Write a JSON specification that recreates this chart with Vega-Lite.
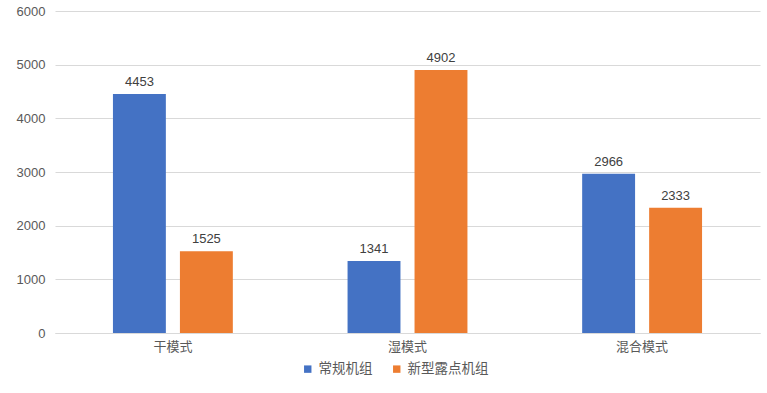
{
  "$schema": "https://vega.github.io/schema/vega-lite/v6.json",
  "width": 705,
  "height": 322,
  "autosize": {"type": "none"},
  "padding": {"left": 55, "top": 11, "right": 7, "bottom": 60},
  "background": "#ffffff",
  "config": {
    "view": {"stroke": null},
    "font": "Liberation Sans",
    "axis": {"labelFont": "Noto Sans CJK SC", "labelColor": "#595959", "labelFontSize": 13},
    "legend": {"labelFont": "Noto Sans CJK SC", "labelColor": "#595959", "labelFontSize": 13.5}
  },
  "data": {
    "values": [
      {"mode": "干模式", "series": "常规机组", "value": 4453},
      {"mode": "干模式", "series": "新型露点机组", "value": 1525},
      {"mode": "湿模式", "series": "常规机组", "value": 1341},
      {"mode": "湿模式", "series": "新型露点机组", "value": 4902},
      {"mode": "混合模式", "series": "常规机组", "value": 2966},
      {"mode": "混合模式", "series": "新型露点机组", "value": 2333}
    ]
  },
  "encoding": {
    "x": {
      "field": "mode", "type": "nominal", "sort": ["干模式", "湿模式", "混合模式"],
      "scale": {"paddingInner": 0.489, "paddingOuter": 0.247},
      "axis": {"title": null, "labelAngle": 0, "ticks": false, "domainColor": "#d9d9d9", "labelPadding": 7}
    },
    "xOffset": {
      "field": "series", "type": "nominal", "sort": ["常规机组", "新型露点机组"],
      "scale": {"paddingInner": 0.21, "paddingOuter": 0}
    },
    "y": {
      "field": "value", "type": "quantitative",
      "scale": {"domain": [0, 6000], "nice": false},
      "axis": {"title": null, "values": [0, 1000, 2000, 3000, 4000, 5000, 6000], "format": "d", "domain": false, "ticks": false, "gridColor": "#d9d9d9", "labelPadding": 10, "labelFont": "Liberation Sans"}
    }
  },
  "layer": [
    {
      "mark": {"type": "bar"},
      "encoding": {
        "color": {
          "field": "series", "type": "nominal", "sort": ["常规机组", "新型露点机组"],
          "scale": {"range": ["#4472C4", "#ED7D31"]},
          "legend": {"title": null, "orient": "none", "legendX": 246, "legendY": 351, "direction": "horizontal", "symbolType": "square", "symbolSize": 55, "columnPadding": 17, "labelOffset": 4}
        }
      }
    },
    {
      "mark": {"type": "text", "dy": -12, "fontSize": 13, "color": "#404040", "font": "Liberation Sans"},
      "encoding": {"text": {"field": "value", "type": "quantitative"}}
    }
  ]
}
